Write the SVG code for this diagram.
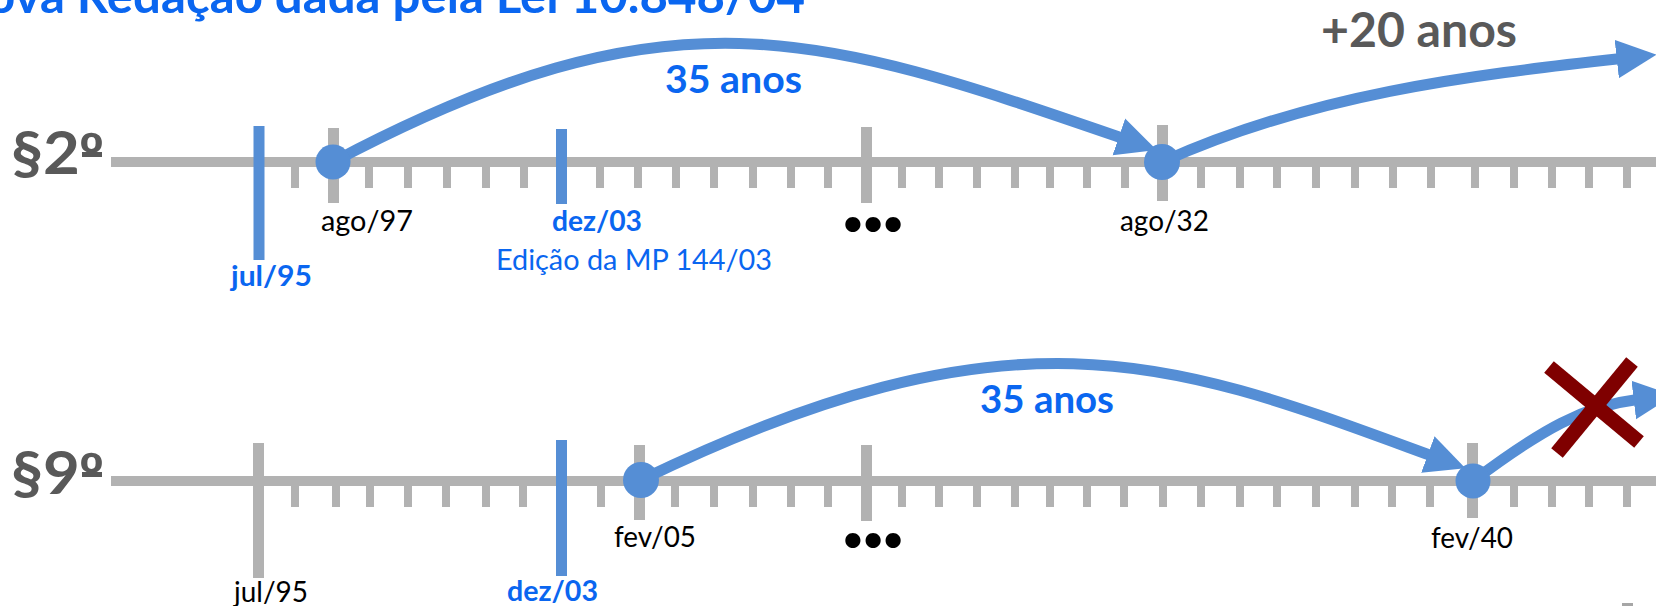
<svg xmlns="http://www.w3.org/2000/svg" width="1656" height="606" viewBox="0 0 1656 606">
<style>
.axis{stroke:#B2B2B2;stroke-width:10;fill:none}
.minor{fill:#B2B2B2}
.major{fill:#B2B2B2}
.bar{fill:#558ED5}
.dot{fill:#558ED5}
.arc{fill:none;stroke:#558ED5;stroke-width:11;marker-end:url(#arrow)}
.t{font-family:Lato,"Liberation Sans",sans-serif}
.b{font-weight:bold}
.blue{fill:#0A66F0}
.dark{fill:#595959}
.blk{fill:#000000}
.sec{font-size:60px;font-weight:bold;fill:#595959}
.ord{font-family:"Liberation Sans",sans-serif;font-weight:bold}
.ordbar{fill:#595959}
.date{font-size:29px}
.big{font-size:39px;font-weight:bold}
.ell{font-size:100px;font-weight:bold;fill:#000}
.xmark{stroke:#7F0000;stroke-width:15;fill:none}
</style>
<defs>
<marker id="arrow" markerUnits="userSpaceOnUse" markerWidth="40" markerHeight="40" viewBox="0 0 35 34" refX="2" refY="17" orient="auto">
<path d="M0,0 L35,17 L0,34 z" fill="#558ED5"/>
</marker>
<rect id="tk" x="-4" y="0" width="8" height="26" class="minor"/>
</defs>

<g id="title">
<text class="t b blue" x="-50" y="13" font-size="47" textLength="855" lengthAdjust="spacingAndGlyphs">Nova Redação dada pela Lei 10.848/04</text>
</g>

<g id="timeline-p2">
<text id="label-p2" class="t sec" x="11" y="174" textLength="92" lengthAdjust="spacingAndGlyphs">§2<tspan class="ord">º</tspan></text>
<rect class="ordbar" x="82" y="152" width="20" height="5"/>
<line class="axis" x1="111" y1="162" x2="1656" y2="162"/>
<g id="ticks-p2">
<use href="#tk" x="295" y="162"/><use href="#tk" x="369" y="162"/><use href="#tk" x="408" y="162"/><use href="#tk" x="447" y="162"/><use href="#tk" x="486" y="162"/><use href="#tk" x="524" y="162"/><use href="#tk" x="600" y="162"/><use href="#tk" x="638" y="162"/><use href="#tk" x="676" y="162"/><use href="#tk" x="714" y="162"/><use href="#tk" x="753" y="162"/><use href="#tk" x="791" y="162"/><use href="#tk" x="828" y="162"/><use href="#tk" x="902" y="162"/><use href="#tk" x="939" y="162"/><use href="#tk" x="977" y="162"/><use href="#tk" x="1015" y="162"/><use href="#tk" x="1050" y="162"/><use href="#tk" x="1087" y="162"/><use href="#tk" x="1125" y="162"/><use href="#tk" x="1201" y="162"/><use href="#tk" x="1240" y="162"/><use href="#tk" x="1277" y="162"/><use href="#tk" x="1316" y="162"/><use href="#tk" x="1355" y="162"/><use href="#tk" x="1393" y="162"/><use href="#tk" x="1431" y="162"/><use href="#tk" x="1475" y="162"/><use href="#tk" x="1514" y="162"/><use href="#tk" x="1552" y="162"/><use href="#tk" x="1589" y="162"/><use href="#tk" x="1627" y="162"/>
</g>
<rect class="major" x="328" y="128" width="11" height="75"/>
<rect class="major" x="861" y="127" width="11" height="76"/>
<rect class="major" x="1157" y="125" width="11" height="76"/>
</g>

<g id="timeline-p9">
<text id="label-p9" class="t sec" x="11" y="494" textLength="92" lengthAdjust="spacingAndGlyphs">§9<tspan class="ord">º</tspan></text>
<rect class="ordbar" x="82" y="472" width="20" height="5"/>
<line class="axis" x1="111" y1="481" x2="1656" y2="481"/>
<g id="ticks-p9">
<use href="#tk" x="295" y="481"/><use href="#tk" x="336" y="481"/><use href="#tk" x="370" y="481"/><use href="#tk" x="408" y="481"/><use href="#tk" x="446" y="481"/><use href="#tk" x="486" y="481"/><use href="#tk" x="523" y="481"/><use href="#tk" x="601" y="481"/><use href="#tk" x="675" y="481"/><use href="#tk" x="714" y="481"/><use href="#tk" x="753" y="481"/><use href="#tk" x="791" y="481"/><use href="#tk" x="828" y="481"/><use href="#tk" x="902" y="481"/><use href="#tk" x="939" y="481"/><use href="#tk" x="977" y="481"/><use href="#tk" x="1015" y="481"/><use href="#tk" x="1050" y="481"/><use href="#tk" x="1087" y="481"/><use href="#tk" x="1124" y="481"/><use href="#tk" x="1163" y="481"/><use href="#tk" x="1201" y="481"/><use href="#tk" x="1240" y="481"/><use href="#tk" x="1277" y="481"/><use href="#tk" x="1316" y="481"/><use href="#tk" x="1355" y="481"/><use href="#tk" x="1392" y="481"/><use href="#tk" x="1430" y="481"/><use href="#tk" x="1514" y="481"/><use href="#tk" x="1552" y="481"/><use href="#tk" x="1589" y="481"/><use href="#tk" x="1627" y="481"/>
</g>
<rect class="major" x="253" y="443" width="11" height="135"/>
<rect class="major" x="634" y="445" width="11" height="75"/>
<rect class="major" x="861" y="445" width="11" height="76"/>
<rect class="major" x="1467" y="443" width="11" height="75"/>
</g>

<g id="connectors">
<path class="arc" d="M333,162 C673,-18 819,34 1121,137.7"/>
<path class="arc" d="M1162,162 C1312,94.5 1467,75.5 1619,58.8"/>
<path class="arc" d="M641,480 C1021,296 1178,363 1430,455.2"/>
<path class="arc" d="M1473,481 C1543,428.5 1584,406 1636,399.8"/>
</g>

<g id="node-jul95-p2">
<rect class="bar" x="253.5" y="126" width="11" height="134"/>
<text class="t b blue date" x="231" y="286" textLength="81" lengthAdjust="spacingAndGlyphs">jul/95</text>
</g>
<g id="node-ago97">
<circle class="dot" cx="333" cy="162" r="17.5"/>
<text class="t blk date" x="321" y="231" textLength="92" lengthAdjust="spacingAndGlyphs">ago/97</text>
</g>
<g id="node-dez03-p2">
<rect class="bar" x="556" y="129" width="11" height="75"/>
<text class="t b blue date" x="552" y="231" textLength="90" lengthAdjust="spacingAndGlyphs">dez/03</text>
<text class="t blue date" x="496" y="270" textLength="276" lengthAdjust="spacingAndGlyphs">Edição da MP 144/03</text>
</g>
<g id="ellipsis-p2">
<text class="t ell" x="841" y="231" textLength="64" lengthAdjust="spacing">...</text>
</g>
<g id="node-ago32">
<circle class="dot" cx="1162" cy="162" r="18"/>
<text class="t blk date" x="1120" y="231" textLength="89" lengthAdjust="spacingAndGlyphs">ago/32</text>
</g>
<g id="label-35-p2">
<text class="t big blue" x="665" y="93" textLength="137" lengthAdjust="spacingAndGlyphs">35 anos</text>
</g>
<g id="label-20">
<text class="t b dark" x="1321" y="47" font-size="47" textLength="196" lengthAdjust="spacingAndGlyphs">+20 anos</text>
</g>

<g id="node-jul95-p9">
<text class="t blk date" x="234" y="602" textLength="74" lengthAdjust="spacingAndGlyphs">jul/95</text>
</g>
<g id="node-dez03-p9">
<rect class="bar" x="556" y="440" width="11" height="136"/>
<text class="t b blue date" x="507" y="601" textLength="91" lengthAdjust="spacingAndGlyphs">dez/03</text>
</g>
<g id="node-fev05">
<circle class="dot" cx="641" cy="480" r="18"/>
<text class="t blk date" x="614" y="547" textLength="82" lengthAdjust="spacingAndGlyphs">fev/05</text>
</g>
<g id="ellipsis-p9">
<text class="t ell" x="841" y="547" textLength="64" lengthAdjust="spacing">...</text>
</g>
<g id="node-fev40">
<circle class="dot" cx="1473" cy="481" r="17.5"/>
<text class="t blk date" x="1431" y="548" textLength="82" lengthAdjust="spacingAndGlyphs">fev/40</text>
</g>
<g id="label-35-p9">
<text class="t big blue" x="980" y="413" textLength="134" lengthAdjust="spacingAndGlyphs">35 anos</text>
</g>
<g id="xmark">
<line class="xmark" x1="1549" y1="367" x2="1639" y2="442"/>
<line class="xmark" x1="1632" y1="362" x2="1557" y2="453"/>
</g>
<rect id="corner-mark" x="1622" y="603" width="11" height="3" fill="#A6A6A6"/>
</svg>
